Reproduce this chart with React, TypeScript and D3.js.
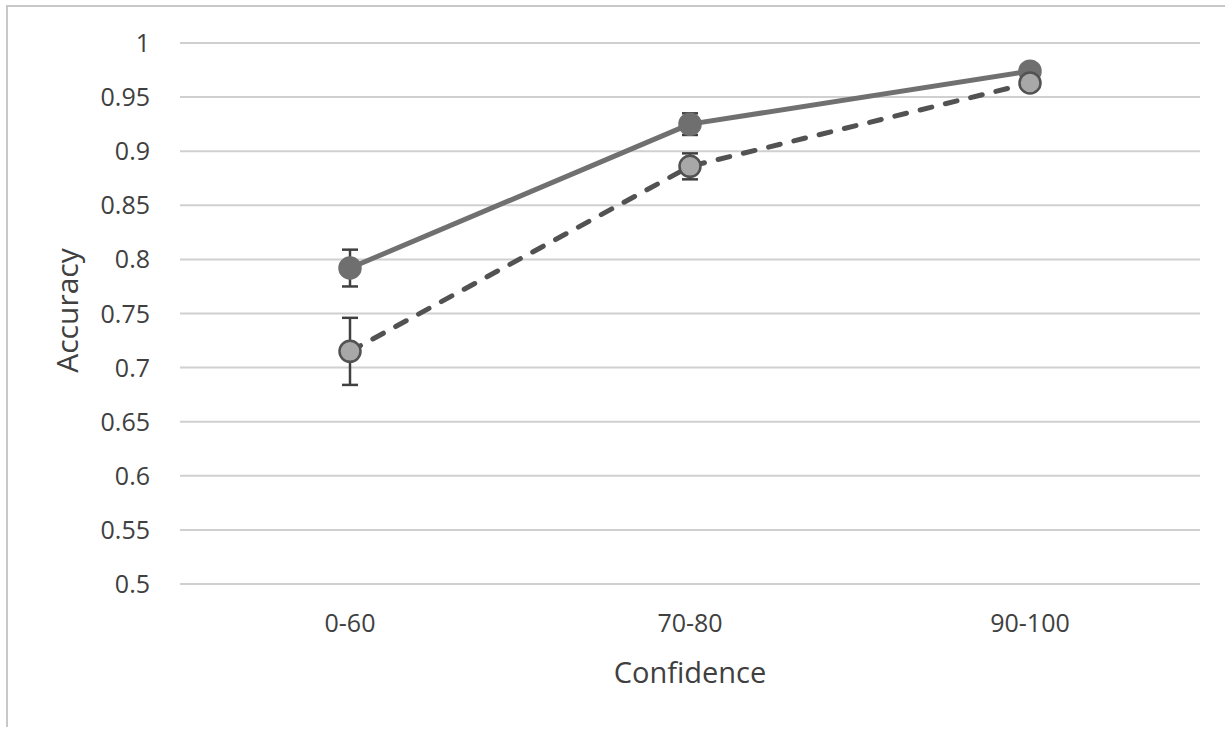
import React from "react";
import * as d3 from "d3";

// Confidence bins on the x axis
const categories = ["0-60", "70-80", "90-100"];
// Mean accuracy per bin, solid series
const solidValues = [0.792, 0.925, 0.974];
const solidErrors = [0.017, 0.01, 0.005];
// Mean accuracy per bin, dashed series
const dashedValues = [0.715, 0.886, 0.963];
const dashedErrors = [0.031, 0.012, 0.005];
// Y axis ticks
const yTicks = [0.5, 0.55, 0.6, 0.65, 0.7, 0.75, 0.8, 0.85, 0.9, 0.95, 1];

const W = 1225;
const H = 730;
const plot = { left: 180, right: 1200, top: 43, bottom: 584 };
const FONT = "'Open Sans', 'Noto Sans', sans-serif";

export default function App() {
  const x = d3
    .scaleBand<string>()
    .domain(categories)
    .range([plot.left, plot.right])
    .padding(0);
  const cx = (c: string) => (x(c) as number) + x.bandwidth() / 2;
  const y = d3.scaleLinear().domain([0.5, 1]).range([plot.bottom, plot.top]);

  const line = d3
    .line<number>()
    .x((_, i) => cx(categories[i]))
    .y((v) => y(v));

  const series = [
    {
      key: "solid",
      values: solidValues,
      errors: solidErrors,
      stroke: "#707070",
      dash: undefined as string | undefined,
      fill: "#6f6f6f",
      markerStroke: "#6f6f6f",
    },
    {
      key: "dashed",
      values: dashedValues,
      errors: dashedErrors,
      stroke: "#525252",
      dash: "12 14",
      fill: "#a8a8a8",
      markerStroke: "#525252",
    },
  ];

  const capHalf = 8;

  return (
    <svg
      width={W}
      height={H}
      style={{ position: "absolute", left: 0, top: 0, display: "block", background: "#fff" }}
    >
      {/* chart frame */}
      <line x1={6} x2={W} y1={6} y2={6} stroke="#c8c8c8" strokeWidth={2} />
      <line x1={7} x2={7} y1={5} y2={727} stroke="#c8c8c8" strokeWidth={2} />

      {/* gridlines */}
      {yTicks.map((t) => (
        <line
          key={"g" + t}
          x1={plot.left}
          x2={plot.right}
          y1={y(t)}
          y2={y(t)}
          stroke="#d0d0d0"
          strokeWidth={2}
        />
      ))}

      {/* y tick labels */}
      {yTicks.map((t) => (
        <text
          key={"yl" + t}
          x={150}
          y={y(t)}
          dy="0.36em"
          textAnchor="end"
          fontFamily={FONT}
          fontSize={25}
          fill="#404040"
        >
          {String(t)}
        </text>
      ))}

      {/* x tick labels */}
      {categories.map((c) => (
        <text
          key={"xl" + c}
          x={cx(c)}
          y={632}
          textAnchor="middle"
          fontFamily={FONT}
          fontSize={25}
          fill="#404040"
        >
          {c}
        </text>
      ))}

      {/* axis titles */}
      <text
        x={690}
        y={683}
        textAnchor="middle"
        fontFamily={FONT}
        fontSize={29}
        fill="#404040"
      >
        Confidence
      </text>
      <text
        transform={`translate(78, ${(plot.top + plot.bottom) / 2 - 3}) rotate(-90)`}
        textAnchor="middle"
        fontFamily={FONT}
        fontSize={30}
        fill="#404040"
      >
        Accuracy
      </text>

      {/* error bars */}
      {series.map((s) =>
        s.values.map((v, i) => {
          const px = cx(categories[i]);
          const y1 = y(v + s.errors[i]);
          const y2 = y(v - s.errors[i]);
          return (
            <g key={s.key + "e" + i} stroke="#404040" strokeWidth={2.5}>
              <line x1={px} x2={px} y1={y1} y2={y2} />
              <line x1={px - capHalf} x2={px + capHalf} y1={y1} y2={y1} />
              <line x1={px - capHalf} x2={px + capHalf} y1={y2} y2={y2} />
            </g>
          );
        })
      )}

      {/* lines and markers */}
      {series.map((s) => (
        <g key={s.key}>
          <path
            d={line(s.values) || ""}
            fill="none"
            stroke={s.stroke}
            strokeWidth={5}
            strokeDasharray={s.dash}
            strokeLinecap="round"
            strokeLinejoin="round"
          />
          {s.values.map((v, i) => (
            <circle
              key={i}
              cx={cx(categories[i])}
              cy={y(v)}
              r={10.5}
              fill={s.fill}
              stroke={s.markerStroke}
              strokeWidth={2.5}
            />
          ))}
        </g>
      ))}
    </svg>
  );
}
